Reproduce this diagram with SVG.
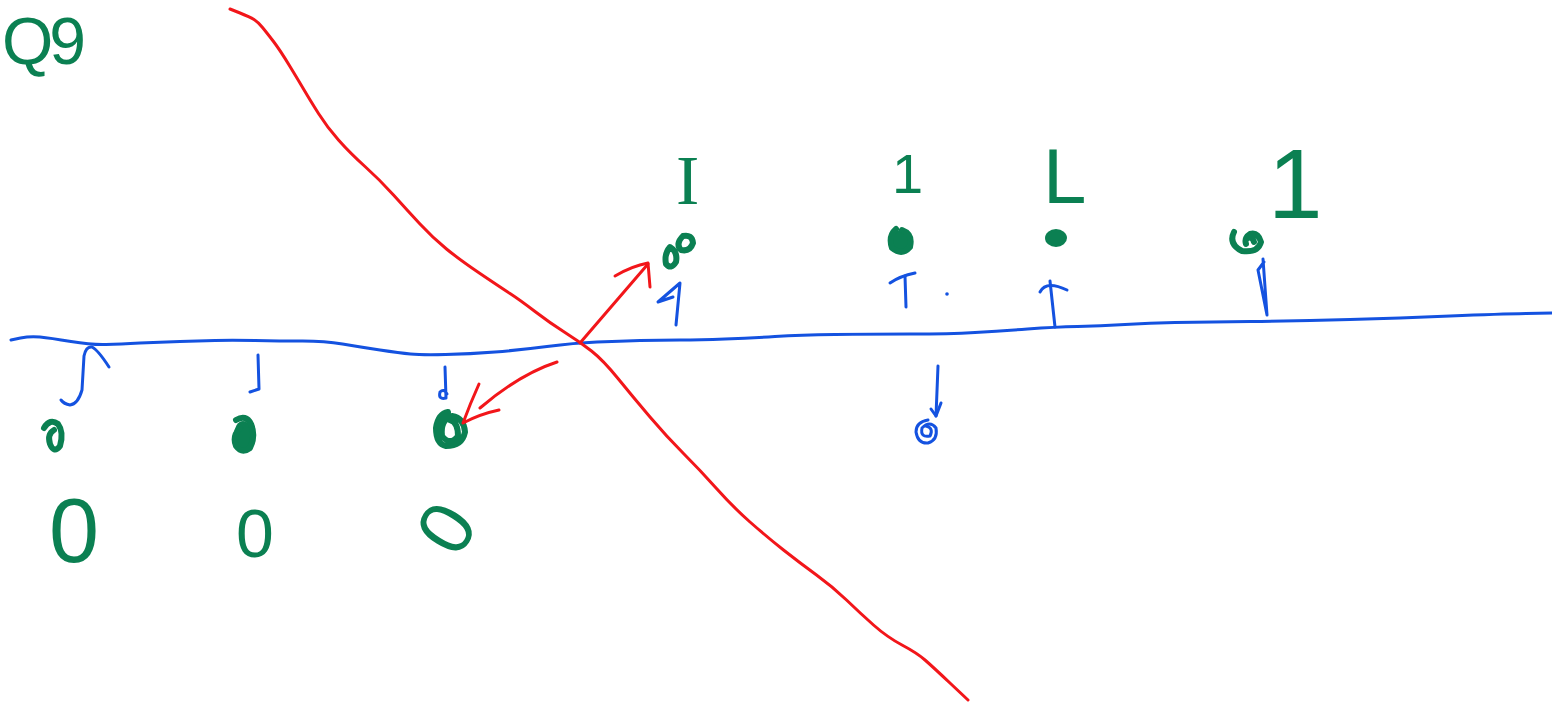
<svg xmlns="http://www.w3.org/2000/svg" width="1552" height="706" viewBox="0 0 1552 706">
  <style>
    .ink { fill: none; stroke-linecap: round; stroke-linejoin: round; }
    .blue { stroke: #1452e0; stroke-width: 3; }
    .red { stroke: #f2161a; stroke-width: 3; }
    .green { stroke: #0b8052; stroke-width: 6; }
    .dot { fill: #0b8052; }
    .lbl { fill: #0b8052; font-family: "Liberation Sans", "DejaVu Sans", sans-serif; }
    .lbl-serif { fill: #0b8052; font-family: "Liberation Serif", "DejaVu Serif", serif; }
  </style>
  <rect width="1552" height="706" fill="#ffffff"/>

  <!-- corner label -->
  <g id="title">
    <text class="lbl" x="2" y="64" font-size="66" letter-spacing="-4">Q9</text>
  </g>

  <!-- horizontal axis -->
  <g id="axis">
    <path class="ink blue" d="M11,340 L20.5,338 Q30,336 40,337 Q50,338 71,341.5 Q92,345 106,344.5 Q120,344 140,343 Q160,342 180,341.5 Q200,341 215,340.5 Q230,340 255,340.5 Q280,341 302.5,341 Q325,341 342.5,344 Q360,347 380,350 Q400,353 410.5,354 Q421,355 445.5,354.5 Q470,354 495,352 Q520,350 547,346.5 Q574,343 597,342 Q620,341 640,340.5 Q660,340 680,340 Q700,340 725,339 Q750,338 775,336.5 Q800,335 835,334.5 Q870,334 910,334 Q950,334 975,332.5 Q1000,331 1027.5,329 Q1055,327 1077.5,326.5 Q1100,326 1125,324.5 Q1150,323 1175,322.5 Q1200,322 1250,321.5 Q1300,321 1350,319.5 Q1400,318 1450,316 Q1500,314 1526,313.5 L1552,313"/>
  </g>

  <!-- separating line -->
  <g id="boundary">
    <path class="ink red" d="M230,9 L240,13 Q250,17 254,19.5 Q258,22 262.5,27.5 Q267,33 273.5,41.5 Q280,50 290,66.5 Q300,83 305,91.5 Q310,100 318.5,113.5 Q327,127 338.5,140 Q350,153 365,166.5 Q380,180 393.5,195 Q407,210 420,224 Q433,238 446.5,249 Q460,260 480,273.5 Q500,287 510,293.5 Q520,300 535,311.5 Q550,323 565,332.5 Q580,342 591.5,351 Q603,360 618,378.5 Q633,397 650,417 Q667,437 683.5,453.5 Q700,470 716.5,488.5 Q733,507 750,522 Q767,537 783.5,550 Q800,563 816.5,575 Q833,587 846.5,600 Q860,613 873.5,625 Q887,637 902,645 Q917,653 925,660 Q933,667 950.5,683.5 L968,700"/>
  </g>

  <!-- points below the axis -->
  <g id="point-0a">
    <path class="ink blue" d="M109,367 Q98,350 92,347 Q86,346 84,356 L82,390 Q78,404 70,405 Q64,404 61,400"/>
    <path class="ink green" d="M44,428 Q50,418 58,424 Q64,432 60,446 Q54,454 50,444 Q47,434 54,430"/>
    <text class="lbl" x="49" y="562" font-size="90">0</text>
  </g>
  <g id="point-0b">
    <path class="ink blue" d="M258,355 L259,389 L250,392"/>
    <ellipse cx="243" cy="435" rx="9" ry="14" class="dot"/>
    <path class="ink green" d="M236,420 Q246,414 251,424 Q256,436 250,448 Q242,454 236,446 Q232,436 240,428"/>
    <text class="lbl" x="236" y="557" font-size="68">0</text>
  </g>
  <g id="point-0c">
    <path class="ink blue" d="M445,367 L446,398 Q438,400 440,392 Q444,388 447,394"/>
    <path class="ink green" d="M448,412 Q438,414 436,428 Q436,444 446,446 Q462,446 465,432 Q464,418 452,416 Q440,420 442,436 Q450,446 458,436 Q458,422 450,420"/>
    <text class="lbl" transform="translate(446,527) rotate(-58)" x="-22" y="27" font-size="76">0</text>
  </g>
  <g id="point-0d">
    <path class="ink blue" d="M938,366 L936,416"/>
    <path class="ink blue" d="M941,403 L936,416 L931,409"/>
    <path class="ink blue" stroke-width="4" d="M928,420 Q916,422 916,432 Q918,444 928,443 Q938,440 936,428 Q930,420 922,428 Q920,438 930,436 Q934,428 926,426"/>
  </g>

  <!-- points above the axis -->
  <g id="point-1a">
    <path class="ink blue" d="M676,325 L680,283 L658,302 L673,297"/>
    <path class="ink green" d="M683,236 Q692,234 693,243 Q690,252 681,250 Q675,244 683,236 Z M670,247 Q664,254 666,264 Q671,270 676,262 Q678,252 670,247 Z"/>
    <text class="lbl-serif" x="676" y="204" font-size="70">I</text>
  </g>
  <g id="point-1b">
    <path class="ink blue" d="M905,276 L906,307"/>
    <path class="ink blue" d="M890,283 Q900,276 915,273"/>
    <circle cx="947" cy="294" r="1.8" fill="#1452e0"/>
    <circle cx="900" cy="240" r="10" class="dot"/>
    <path class="ink green" d="M896,229 Q888,236 892,248 Q902,256 910,247 Q913,234 902,230"/>
    <text class="lbl" x="892" y="193" font-size="56">1</text>
  </g>
  <g id="point-1c">
    <path class="ink blue" d="M1050,281 L1055,327"/>
    <path class="ink blue" d="M1040,292 Q1046,280 1067,290"/>
    <ellipse cx="1056" cy="238" rx="11" ry="9" class="dot"/>
    <text class="lbl" x="1043" y="203" font-size="78">L</text>
  </g>
  <g id="point-1d">
    <path class="ink blue" d="M1263,259 L1267,315 L1258,270 L1264,262"/>
    <path class="ink green" d="M1234,232 Q1228,244 1242,251 Q1258,253 1261,242 Q1258,232 1250,234 Q1244,238 1246,244 M1248,238 Q1252,236 1254,242"/>
    <text class="lbl" x="1268" y="218" font-size="98">1</text>
  </g>

  <!-- arrows -->
  <g id="connectors">
    <path class="ink red" d="M580,343 L648,264"/>
    <path class="ink red" stroke-width="5" d="M615,276 Q632,266 648,263 L650,287"/>
    <path class="ink red" d="M557,362 Q520,374 480,408"/>
    <path class="ink red" d="M479,384 Q470,404 463,423 Q480,414 499,410"/>
  </g>
</svg>
